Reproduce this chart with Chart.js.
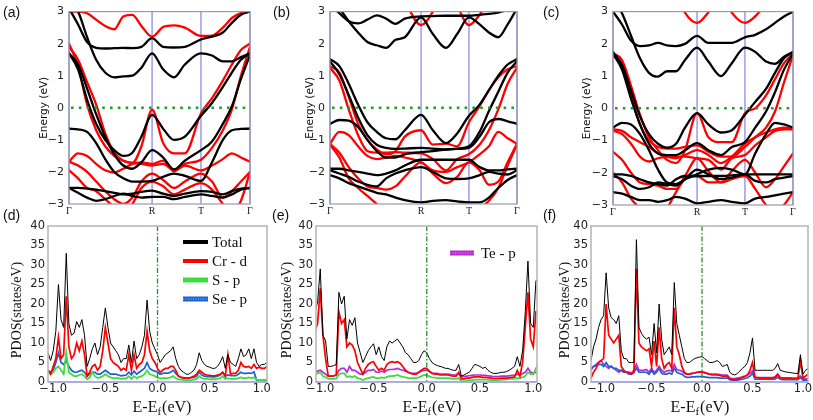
<!DOCTYPE html>
<html><head><meta charset="utf-8">
<script src="https://cdn.jsdelivr.net/npm/chart.js@4.4.1/dist/chart.umd.min.js"></script>
<style>
html,body{margin:0;padding:0;background:#fff;}
#wrap{position:relative;width:813px;height:420px;overflow:hidden;background:#fff;}
#wrap canvas{position:absolute;left:0;top:0;}
</style></head><body>
<div id="wrap">
<canvas id="cA" width="813" height="420"></canvas>
<canvas id="cB" width="813" height="420"></canvas>
<canvas id="cC" width="813" height="420"></canvas>
<canvas id="cD" width="813" height="420"></canvas>
<canvas id="cE" width="813" height="420"></canvas>
<canvas id="cF" width="813" height="420"></canvas>
</div>
<script>
// ---------- band structure data ----------
const K_LABELS = ['Γ', 'R', 'T', 'Γ'];
const KPTS_A = [0, 0.459, 0.729, 1];
const KPTS_B = [0, 0.487, 0.743, 1];
const KPTS_C = [0, 0.467, 0.733, 1];
const K_A = [0, .05, .1, .15, .2, .25, .3, .35, .4, .459, .52, .58, .64, .729, .79, .85, .9, .95, 1];
const K_B = [0, .05, .1, .15, .2, .25, .3, .35, .4, .487, .55, .62, .68, .743, .8, .85, .9, .95, 1];
const K_C = [0, .05, .1, .15, .2, .25, .3, .35, .4, .467, .53, .6, .66, .733, .79, .85, .9, .95, 1];

const BLACK_A = [
  [3.1, 2.6, 2.05, 1.87, 1.85, 1.86, 1.87, 1.86, 1.9, 2.17, 1.9, 1.88, 1.9, 2.13, 2.22, 2.35, 2.65, 2.9, 3.0],
  [3.3, 3.0, 2.2, 1.5, 1.1, 0.95, 0.98, 1.0, 1.25, 1.7, 1.2, 0.95, 1.35, 1.7, 1.63, 1.45, 1.45, 1.58, 1.7],
  [1.7, 1.2, 0.25, -0.5, -1.0, -1.32, -1.5, -1.4, -0.9, -0.22, -0.65, -1.0, -0.9, -0.25, 0.15, 0.65, 1.1, 1.5, 1.7],
  [1.7, 1.35, 0.6, -0.2, -0.9, -1.45, -1.8, -1.9, -1.7, -1.32, -1.55, -1.92, -1.65, -1.32, -1.05, -0.5, 0.05, 0.9, 1.65],
  [-0.65, -0.67, -0.75, -1.1, -1.6, -2.0, -2.2, -2.3, -2.3, -2.28, -2.15, -2.05, -2.12, -2.28, -1.7, -1.0, -0.7, -0.66, -0.65],
  [-2.5, -2.5, -2.52, -2.55, -2.6, -2.65, -2.7, -2.68, -2.62, -2.58, -2.68, -2.75, -2.68, -2.6, -2.62, -2.7, -2.6, -2.52, -2.5],
  [-2.5, -2.65, -2.8, -2.9, -2.85, -2.75, -2.68, -2.75, -2.8, -2.78, -2.78, -2.85, -2.78, -2.7, -2.75, -2.8, -2.7, -2.55, -2.5]
];
const RED_A = [
  [3.0, 3.0, 2.95, 2.75, 2.55, 2.45, 2.85, 2.9, 2.55, 2.22, 2.52, 2.57, 2.5, 2.24, 2.25, 2.5, 2.8, 2.95, 3.0],
  [2.0, 1.3, 0.1, -0.7, -1.2, -1.5, -1.65, -1.72, -1.2, -0.06, -1.1, -1.42, -1.42, -0.18, 0.3, 0.85, 1.35, 1.8, 2.0],
  [1.9, 1.5, 0.8, 0.1, -0.8, -1.4, -1.65, -1.72, -1.75, -1.8, -1.75, -1.95, -1.75, -1.62, -1.25, -0.7, -0.05, 1.0, 1.9],
  [-1.68, -1.42, -1.5, -1.75, -1.95, -2.02, -1.9, -1.75, -1.7, -1.75, -1.65, -1.98, -1.8, -1.95, -1.8, -1.6, -1.42, -1.55, -1.68],
  [-1.68, -1.8, -2.0, -2.3, -2.6, -2.85, -3.0, -2.8, -2.3, -2.05, -2.25, -2.5, -2.3, -2.05, -2.3, -2.8, -2.6, -2.3, -2.0],
  [-1.95, -2.2, -2.5, -2.6, -2.85, -3.1, -3.3, -3.0, -2.5, -2.3, -2.45, -2.7, -2.55, -2.35, -2.55, -3.0, -3.3, -2.9, -2.0]
];
const BLACK_B = [
  [3.2, 2.95, 2.7, 2.63, 2.75, 2.88, 2.78, 2.62, 2.78, 2.85, 2.86, 2.87, 2.87, 2.87, 2.9, 2.93, 2.97, 3.05, 3.1],
  [3.4, 3.1, 2.7, 2.35, 2.05, 1.95, 1.87, 2.12, 2.2, 2.82, 2.3, 1.87, 2.3, 2.82, 2.6, 2.35, 2.2, 2.6, 3.1],
  [1.52, 1.3, 0.75, 0.1, -0.45, -0.75, -0.95, -0.98, -0.7, -0.22, -0.7, -1.1, -0.8, -0.25, 0.1, 0.55, 1.0, 1.35, 1.52],
  [1.45, 1.05, 0.4, -0.3, -0.85, -1.15, -1.25, -1.28, -1.27, -1.25, -1.27, -1.3, -1.27, -1.2, -0.75, -0.1, 0.5, 1.1, 1.45],
  [-0.5, -0.38, -0.4, -0.6, -1.0, -1.35, -1.55, -1.55, -1.45, -1.38, -1.35, -1.3, -1.28, -1.25, -0.9, -0.45, -0.35, -0.42, -0.5],
  [-1.9, -1.9, -1.95, -2.0, -2.05, -2.1, -2.05, -1.95, -1.8, -1.62, -1.62, -1.62, -1.62, -1.62, -1.85, -1.95, -1.95, -1.92, -1.9],
  [-1.95, -2.05, -2.15, -2.3, -2.4, -2.45, -2.2, -2.05, -1.95, -1.85, -2.0, -2.2, -2.22, -2.2, -2.1, -2.0, -2.05, -2.08, -1.95],
  [-2.1, -2.2, -2.35, -2.45, -2.55, -2.65, -2.7, -2.8, -2.88, -2.95, -2.9, -2.88, -2.92, -2.95, -2.95, -2.8, -2.5, -2.25, -2.1]
];
const RED_B = [
  [4, 4, 4, 4, 4, 4, 4, 4, 3.35, 2.58, 3.0, 4, 3.2, 2.58, 2.9, 3.4, 4, 4, 4],
  [1.3, 1.1, 0.35, -0.5, -1.0, -1.3, -1.45, -1.35, -0.9, -0.7, -1.15, -1.12, -1.2, -0.45, 0.05, 0.55, 0.95, 1.2, 1.3],
  [1.25, 0.85, -0.05, -0.85, -1.35, -1.4, -1.4, -1.38, -1.4, -1.42, -1.6, -1.95, -1.6, -1.45, -1.15, -0.7, -0.05, 0.75, 1.25],
  [-1.12, -0.75, -0.85, -1.2, -1.5, -1.6, -1.55, -1.5, -1.55, -1.7, -1.95, -2.0, -1.85, -1.7, -1.45, -1.2, -0.75, -0.95, -1.12],
  [-1.12, -1.4, -1.85, -2.2, -2.45, -2.5, -2.55, -2.45, -2.15, -1.7, -2.05, -2.35, -2.15, -1.7, -1.95, -2.4, -2.3, -1.7, -1.12],
  [-1.15, -1.55, -2.2, -2.5, -2.75, -3.0, -3.3, -3.3, -3.2, -3.2, -3.3, -3.3, -3.2, -3.1, -3.1, -2.9, -2.5, -1.8, -1.15]
];
const BLACK_C = [
  [3.0, 2.6, 2.1, 1.93, 1.95, 2.03, 1.95, 1.93, 2.0, 2.25, 2.03, 2.03, 2.03, 2.2, 2.28, 2.45, 2.65, 2.85, 3.0],
  [3.4, 2.95, 2.25, 1.55, 1.1, 0.98, 1.15, 1.15, 1.5, 1.88, 1.45, 1.0, 1.4, 1.88, 1.75, 1.45, 1.38, 1.6, 1.75],
  [1.75, 1.35, 0.55, -0.25, -0.8, -1.1, -1.22, -1.1, -0.6, -0.15, -0.5, -0.75, -0.68, -0.2, 0.2, 0.6, 1.1, 1.55, 1.75],
  [1.7, 1.2, 0.3, -0.5, -1.1, -1.4, -1.45, -1.45, -1.3, -1.08, -1.3, -1.45, -1.2, -1.05, -0.6, -0.1, 0.5, 1.2, 1.7],
  [-0.6, -0.45, -0.5, -0.8, -1.3, -1.9, -2.3, -2.35, -2.2, -2.05, -1.9, -1.85, -1.9, -2.05, -1.4, -0.8, -0.45, -0.5, -0.6],
  [-2.05, -2.05, -2.1, -2.2, -2.3, -2.35, -2.4, -2.2, -2.1, -2.1, -2.1, -2.1, -2.08, -2.05, -2.05, -2.05, -2.05, -2.05, -2.05],
  [-2.1, -2.2, -2.4, -2.5, -2.45, -2.3, -2.35, -2.4, -2.2, -1.9, -2.05, -2.2, -2.15, -2.05, -2.25, -2.3, -2.2, -2.15, -2.1],
  [-2.6, -2.65, -2.75, -2.85, -2.85, -2.9, -2.85, -2.75, -2.8, -2.95, -2.9, -2.85, -2.9, -2.95, -2.8, -2.75, -2.7, -2.65, -2.6]
];
const RED_C = [
  [4, 4, 4, 4, 4, 4, 4, 3.6, 2.97, 2.65, 2.98, 3.6, 2.97, 2.65, 2.85, 3.3, 4, 4, 4],
  [1.7, 1.5, 0.7, -0.2, -0.9, -1.3, -1.6, -1.7, -1.3, -0.15, -0.9, -1.05, -1.05, -0.15, 0.0, 0.4, 0.9, 1.4, 1.7],
  [1.65, 1.3, 0.4, -0.5, -1.0, -1.2, -1.25, -1.25, -1.2, -1.15, -1.35, -1.5, -1.5, -1.2, -0.9, -0.6, -0.1, 0.8, 1.65],
  [-0.65, -0.7, -0.9, -1.05, -1.2, -1.4, -1.5, -1.55, -1.45, -1.3, -1.45, -1.7, -1.5, -1.1, -0.9, -0.75, -0.65, -0.6, -0.65],
  [-0.7, -0.8, -1.1, -1.5, -1.65, -1.55, -1.5, -1.5, -1.5, -1.55, -1.6, -1.9, -1.55, -1.45, -1.15, -0.9, -0.7, -0.65, -0.65],
  [-1.35, -1.6, -2.0, -2.3, -2.35, -2.4, -2.5, -2.5, -2.1, -1.55, -1.95, -2.3, -1.95, -1.6, -2.0, -2.45, -2.2, -1.8, -1.4],
  [-2.0, -2.3, -2.8, -3.1, -3.3, -3.3, -3.1, -2.6, -2.2, -2.1, -2.3, -2.3, -2.2, -2.1, -2.5, -3.0, -3.3, -3.0, -2.6]
];

// ---------- PDOS data ----------
const E_GRID_DE = Array.from({length: 85}, (_, i) => +(-1.05 + 0.025 * i).toFixed(3));
const E_GRID_F = Array.from({length: 87}, (_, i) => +(-1.1 + 0.025 * i).toFixed(3));
const PDOS_XTICKS = [-1, -0.5, 0, 0.5, 1];

const D_TOTAL = [7.5,5.5,8,13,25,16,14,33,15,12, 12.5,15.5,14,16,12,4,6,8.5,10,7, 9,14,19,14,10,9,8,7,5,6, 6,9.5,5,10.5,6,7,9,12,21,13, 10,8.5,7,5,6,7,7.5,8,9,6, 4,3,2.5,2,2,2.5,3,4.5,7.5,5.5, 4.5,4,3.8,3.5,3.5,4,5,6.5,3.5,7, 5,4.5,4,6,8.5,6.5,7,8.5,6,8.5, 5,4,4.5,4.5,5];
const D_CRD = [3,2,4,6,11.5,6,7,22,9,6, 7,10,8,10.5,7,1.5,2.5,4,4.5,3, 4,8,14,10,6,5,4.5,4,3,3.5, 3,7,3,7,3.5,4.5,5,7,13,8, 6,5,3.5,2.5,3,3.5,3.5,4,4,3, 1.5,1.2,1,1,1,1.2,1.5,2,3,2.5, 2,1.8,1.7,1.6,1.6,1.8,2,2.5,1.5,7, 2,2.2,2.2,3,5,4,3.8,4,3.5,4.5, 3.5,3.8,3.5,3.5,4];
const D_SP = [3,2,2.5,3.5,4,3,2,7.5,2.5,2, 1.5,1.5,1.8,2,1.5,0.7,1.2,2.5,1.5,1, 1.2,1.5,2,1.5,1.2,1,1,1,0.8,0.9, 0.9,1.5,0.8,1.5,1,1.3,1.5,2,3,2, 1.8,1.5,1.2,0.9,1,1,1,1.2,1.5,1, 0.7,0.6,0.5,0.5,0.5,0.5,0.6,0.8,1.5,1, 0.8,0.8,0.7,0.7,0.7,0.8,1,1.5,0.8,1, 0.8,0.8,0.8,1,1.2,1,1,1.2,1,1.2, 0.6,0.5,0.5,0.5,0.6];
const D_SEP = [3,2.5,3,5,7.5,5,4.5,5.5,4,3, 2.5,2.5,2.8,3,2.5,1.5,2,2.5,2.5,2, 2,2.5,3,2.5,2,2,2,1.8,1.6,1.7, 1.8,2.5,1.8,2.8,2,2.5,3,3.5,5,3.5, 3,2.8,2.5,2,2.2,2.3,2.3,2.5,3,2.2, 1.5,1.2,1.1,1,1,1.1,1.2,1.5,2.5,1.8, 1.5,1.4,1.4,1.3,1.3,1.5,1.8,2.5,1.5,1.8, 1.6,1.6,1.6,2,2.5,2.2,2.2,2.3,2.2,2.6, 0.5,0.4,0.4,0.4,0.5];

const E_TOTAL = [18,20.5,29,12,10.5,4,4,4.2,4.5,23, 20,22,11,16,14.5,16.5,10,7.5,5,6.5, 8,9,9.8,7,9,6.5,5.5,9,10.5,10, 10.5,11,10,9,7.5,7,6,5,5,5.5, 7,8,7.5,6,5,4.5,4.2,4,3.8,3.5, 3.5,3.2,3,3,4.5,1.5,1.8,2.2,2.5,3.5, 4.5,4.3,4,3.5,3.8,3,2.5,2.2,2.2,2.3, 2.5,2.5,2.7,3,3.5,4,6.5,4,8,18, 31,15,14,26,26];
const E_CRD = [13,15,24,12,6,1.5,1.5,1.6,1.8,18, 15,16,9,10,9.5,8,5,3.5,2,3.5, 4.5,5,5.2,4,3,3.5,3,4.5,5,5.2, 5,5.2,4.8,4,3,2.5,2.2,2,2,2.5, 3,3.5,3.5,2.8,2.2,2,2,1.8,1.8,1.8, 1.8,1.6,1.5,1.5,2.5,0.8,0.8,1,1,1.2, 1.3,1.3,1.3,1.2,1.2,1.1,1,0.9,0.9,0.9, 1,1,1,1.1,1.2,1.3,3,1.5,5,14, 23,11,9,18,18];
const E_SP = [2.5,2.2,2.5,1.5,1.2,0.8,0.8,0.8,0.9,2, 2.2,2.2,1.3,1.5,1.2,1.5,1,0.8,0.5,0.8, 1,1.2,1.3,1,1,1.2,1,1.3,1.5,1.5, 1.6,1.8,1.5,1.3,1.2,1,1,1,1,1.2, 1.5,1.8,1.8,1.4,1.2,1.1,1,1,1,1, 1,0.9,0.8,0.8,1,0.2,0.2,0.3,0.4,0.5, 0.6,0.6,0.6,0.6,0.6,0.6,0.5,0.5,0.5,0.5, 0.6,0.6,0.7,0.8,0.8,0.9,1,1,1.2,1.5, 2.5,2,2,3.5,4.5];
const E_TEP = [2.5,2.8,3,2.5,2,1.5,1.5,1.5,1.8,3, 3.5,3.5,2.5,4,3,3,2.5,2,2,2.5, 3,3,3.2,2.5,2.5,2.8,2.5,3,3.2,3.2, 3.3,3.5,3.2,3,2.8,2.5,2.3,2.2,2.2,2.5, 2.8,3,3,2.6,2.3,2.2,2.2,2,2,2, 2,1.9,1.8,1.8,2.2,1.4,1.4,1.5,1.6,1.7, 1.8,1.8,1.8,1.7,1.7,1.6,1.5,1.4,1.4,1.4, 1.5,1.5,1.5,1.6,1.7,1.8,2,1.8,2.2,2.5, 3.5,2.5,2.3,2.5,2.5];

const F_TOTAL = [5.5,9,11,14,16,17,28,19,16.5,16, 15,17,8,6,6,5,5,5,36.5,14, 12.5,11.5,11,11.5,7,15,7.5,20,11,7, 8,9,7,25.5,15,12,9,6,5,5, 5.5,6,6.2,6.4,6.5,6,5.5,5,5,5.2, 5.5,5,4,4.2,4.5,2.5,2,1.8,2.2,2.8, 3.5,4,5,7.5,11.3,3,3,3,3,3, 3,3,3,3.5,4.7,3,2.8,2.6,2.5,2.4, 2.3,2.2,2.2,7,2,3,3.5];
const F_CRD = [1,2.5,3.5,5,5.5,6,20,12,11,10, 11,12,4,3,2.5,2.5,2,2.5,29,10, 9,8.5,8,8.5,4,10.5,4,14,6,3.5, 4.5,5,3.5,19,9,7,4,2.5,2,2, 2.2,2.3,2.5,2.6,2.6,2.5,2.2,2,1.8,1.8, 1.8,1.7,1.5,1.5,1.5,0.8,0.6,0.6,0.7,0.9, 1.2,1.4,1.8,3,5,1.2,1.1,1,1,1, 1,1,1,1.3,2,1.1,1,1,1,1, 0.9,0.9,0.9,5.5,1,1.5,2];
const F_SEP = [3.5,4,4.2,4.5,4.5,4,5,4,4,3.5, 3.5,3,3,2.5,2.5,2,2,2.5,3.5,2.5, 2.5,2.5,2.5,2,3,2,2.5,3.5,2.2,2, 2,2.3,2,3.5,2.5,2.2,2,1.5,1.2,1.2, 1.3,1.3,1.4,1.4,1.4,1.3,1.2,1.1,1.1,1.1, 1.1,1,1,1,1,0.6,0.5,0.5,0.5,0.6, 0.7,0.9,1.1,1.5,2.2,0.7,0.7,0.7,0.7,0.7, 0.7,0.7,0.7,0.8,1.2,0.7,0.6,0.6,0.6,0.6, 0.6,0.6,0.6,1.2,0.5,0.5,0.5];
const F_TEP = [3,4,4.5,5,5.5,4.5,4,3.5,4,3.5, 3,2.5,3,2.5,2.5,2.5,2.3,3,4.5,3, 3,3,3.2,2.5,3.5,2.5,3,4,3,2.5, 2.8,3,2.8,4.5,3.2,3,2.8,2.2,2,2, 2.2,2.3,2.5,2.5,2.5,2.3,2.2,2,2,2, 2,1.9,1.8,1.8,1.8,1,0.9,0.9,1,1.1, 1.3,1.5,1.8,2.2,2.8,1.2,1.1,1.1,1.1,1.1, 1.1,1.1,1.1,1.3,1.8,1.1,1,1,1,1, 1,1,1,1.5,0.8,0.8,0.8];

// ---------- styling ----------
const COL = {total:'#000000', cr:'#ff0000', s:'#3fdc3f', se:'#1f5fd6', te:'#b52bd4'};
const SANS = "'DejaVu Sans', sans-serif";
const SERIF = "'Liberation Serif', 'Times New Roman', serif";
const W = 813, H = 420;
const YAXIS_W = 40, XAXIS_H = 22;
const NO_GRID = {display: false, drawTicks: false, tickLength: 0};

function minusFmt(v, d) {
  const s = Math.abs(v).toFixed(d);
  return v < -1e-9 ? '\u2212' + s : s;
}
// padding so that the plot area lands on the given pixel box
function areaPad(l, t, r, b) {
  return {left: l - YAXIS_W, top: t, right: W - r, bottom: H - b - XAXIS_H};
}

function drawRotated(ctx, text, x, y, font) {
  ctx.save();
  ctx.translate(x, y); ctx.rotate(-Math.PI / 2);
  ctx.font = font; ctx.fillStyle = '#111'; ctx.textAlign = 'center'; ctx.textBaseline = 'middle';
  ctx.fillText(text, 0, 0);
  ctx.restore();
}
function drawPanelLabel(ctx, text, x, y) {
  ctx.save();
  ctx.font = "14px 'Liberation Sans', Arial, sans-serif"; ctx.fillStyle = '#111';
  ctx.textAlign = 'left'; ctx.textBaseline = 'middle';
  ctx.fillText(text, x, y);
  ctx.restore();
}
function drawEEf(ctx, cx, by) {
  ctx.save();
  ctx.fillStyle = '#111'; ctx.textAlign = 'left'; ctx.textBaseline = 'alphabetic';
  const big = '16px ' + SERIF, small = '11px ' + SERIF;
  ctx.font = big; const w1 = ctx.measureText('E-E').width, w3 = ctx.measureText('(eV)').width;
  ctx.font = small; const w2 = ctx.measureText('f').width + 1;
  let x = cx - (w1 + w2 + w3) / 2;
  ctx.font = big; ctx.fillText('E-E', x, by); x += w1;
  ctx.font = small; ctx.fillText('f', x, by + 3); x += w2;
  ctx.font = big; ctx.fillText('(eV)', x, by);
  ctx.restore();
}

function bandPlugin(o) {
  return {
    id: 'bandDecor',
    beforeDatasetsDraw(chart) {
      const {ctx, chartArea: a, scales: {x}} = chart;
      ctx.save();
      ctx.strokeStyle = '#8c8ce6'; ctx.lineWidth = 1.3;
      o.kpts.forEach(k => {
        const px = x.getPixelForValue(k);
        ctx.beginPath(); ctx.moveTo(px, a.top); ctx.lineTo(px, a.bottom); ctx.stroke();
      });
      ctx.restore();
    },
    afterDatasetsDraw(chart) {
      const {ctx, chartArea: a, scales: {y}} = chart;
      ctx.save();
      const y0 = y.getPixelForValue(0);
      ctx.strokeStyle = '#24992a'; ctx.lineWidth = 2.6; ctx.setLineDash([2.6, 5.2]);
      ctx.beginPath(); ctx.moveTo(a.left + 2, y0); ctx.lineTo(a.right, y0); ctx.stroke();
      ctx.setLineDash([]);
      ctx.strokeStyle = '#9a9aa8'; ctx.lineWidth = 1.2;
      ctx.strokeRect(a.left, a.top, a.right - a.left, a.bottom - a.top);
      ctx.restore();
    },
    afterDraw(chart) {
      const ctx = chart.ctx;
      drawPanelLabel(ctx, o.label, o.labelX, o.labelY);
      drawRotated(ctx, 'Energy (eV)', o.titleX, (chart.chartArea.top + chart.chartArea.bottom) / 2, '10.5px ' + SANS);
    }
  };
}

function makeBand(id, o) {
  const ds = [];
  const mk = (vals, color) => ({
    data: o.k.map((x, i) => ({x: x, y: vals[i]})),
    borderColor: color, borderWidth: 2.3, pointRadius: 0, fill: false,
    cubicInterpolationMode: 'monotone', borderCapStyle: 'round', borderJoinStyle: 'round'
  });
  o.black.forEach(b => ds.push(mk(b, '#000000')));
  o.red.forEach(b => ds.push(mk(b, '#ff0000')));
  new Chart(document.getElementById(id), {
    type: 'line',
    data: {datasets: ds},
    options: {
      responsive: false, animation: false, events: [],
      layout: {padding: o.pad},
      plugins: {legend: {display: false}, tooltip: {enabled: false}},
      scales: {
        x: {
          type: 'linear', min: 0, max: 1,
          grid: NO_GRID, border: {display: false},
          afterBuildTicks: s => { s.ticks = o.kpts.map(v => ({value: v})); },
          afterFit: s => { s.height = XAXIS_H; },
          ticks: {autoSkip: false, maxRotation: 0, padding: 1, color: '#222',
                  font: {family: SERIF, size: 10}, callback: (v, i) => K_LABELS[i]}
        },
        y: {
          type: 'linear', min: -3, max: 3,
          grid: NO_GRID, border: {display: false},
          afterFit: s => { s.width = YAXIS_W; },
          ticks: {stepSize: 1, padding: 5, color: '#222', font: {family: SANS, size: 11},
                  callback: v => minusFmt(v, 0)}
        }
      }
    },
    plugins: [bandPlugin(o)]
  });
}

function drawSwatch(ctx, x1, x2, y, color, w, dots) {
  ctx.save();
  ctx.strokeStyle = color; ctx.lineWidth = w; ctx.lineCap = 'butt';
  ctx.beginPath(); ctx.moveTo(x1, y); ctx.lineTo(x2, y); ctx.stroke();
  if (dots) {
    ctx.strokeStyle = dots; ctx.lineWidth = 1.2; ctx.setLineDash([1, 1.5]);
    ctx.beginPath(); ctx.moveTo(x1, y); ctx.lineTo(x2, y); ctx.stroke();
  }
  ctx.restore();
}

function pdosPlugin(o) {
  return {
    id: 'pdosDecor',
    afterDatasetsDraw(chart) {
      const {ctx, chartArea: a, scales: {x}} = chart;
      ctx.save();
      const px = x.getPixelForValue(0);
      ctx.strokeStyle = '#2b8f2b'; ctx.lineWidth = 1.3; ctx.setLineDash([5, 2, 1.5, 2]);
      ctx.beginPath(); ctx.moveTo(px, a.top); ctx.lineTo(px, a.bottom); ctx.stroke();
      ctx.setLineDash([]);
      ctx.strokeStyle = '#b8b8b8'; ctx.lineWidth = 1.6;
      ctx.strokeRect(a.left, a.top, a.right - a.left, a.bottom - a.top);
      ctx.strokeStyle = '#a3a3e6'; ctx.lineWidth = 1.6;
      ctx.beginPath(); ctx.moveTo(a.left, a.bottom); ctx.lineTo(a.right, a.bottom); ctx.stroke();
      ctx.restore();
    },
    afterDraw(chart) {
      const ctx = chart.ctx, a = chart.chartArea;
      drawPanelLabel(ctx, o.label, o.labelX, o.labelY);
      drawRotated(ctx, 'PDOS(states/eV)', o.titleX, (a.top + a.bottom) / 2 + 6, '14px ' + SERIF);
      drawEEf(ctx, o.xTitleX, 412);
      o.legend.forEach(e => {
        drawSwatch(ctx, e.x1, e.x2, e.y, e.color, e.w, e.dots);
        ctx.save();
        ctx.font = '15px ' + SERIF; ctx.fillStyle = '#111'; ctx.textAlign = 'left'; ctx.textBaseline = 'middle';
        ctx.fillText(e.text, e.tx, e.y + 1);
        ctx.restore();
      });
    }
  };
}

function makePdos(id, o) {
  const ds = o.series.map(s => ({
    data: o.grid.map((x, i) => ({x: x, y: s.vals[i]})),
    borderColor: s.color, borderWidth: s.w, pointRadius: 0, fill: false, tension: 0,
    borderJoinStyle: 'miter'
  }));
  new Chart(document.getElementById(id), {
    type: 'line',
    data: {datasets: ds},
    options: {
      responsive: false, animation: false, events: [],
      layout: {padding: o.pad},
      plugins: {legend: {display: false}, tooltip: {enabled: false}},
      scales: {
        x: {
          type: 'linear', min: o.xmin, max: o.xmax,
          grid: NO_GRID, border: {display: false},
          afterBuildTicks: s => { s.ticks = PDOS_XTICKS.map(v => ({value: v})); },
          afterFit: s => { s.height = XAXIS_H; },
          ticks: {autoSkip: false, maxRotation: 0, padding: 0, color: '#222',
                  font: {family: SANS, size: 11.5}, callback: v => minusFmt(v, 1)}
        },
        y: {
          type: 'linear', min: 0, max: 40,
          grid: NO_GRID, border: {display: false},
          afterFit: s => { s.width = YAXIS_W; },
          ticks: {stepSize: 5, padding: 3, color: '#222', font: {family: SANS, size: 11.5}}
        }
      }
    },
    plugins: [pdosPlugin(o)]
  });
}

// ---------- top row ----------
makeBand('cA', {k: K_A, kpts: KPTS_A, black: BLACK_A, red: RED_A,
  pad: areaPad(69, 10, 250, 204), label: '(a)', labelX: 3, labelY: 13, titleX: 44});
makeBand('cB', {k: K_B, kpts: KPTS_B, black: BLACK_B, red: RED_B,
  pad: areaPad(330, 10, 517, 204), label: '(b)', labelX: 273, labelY: 13, titleX: 310});
makeBand('cC', {k: K_C, kpts: KPTS_C, black: BLACK_C, red: RED_C,
  pad: areaPad(613, 11, 793, 205), label: '(c)', labelX: 543, labelY: 13, titleX: 587});

// ---------- bottom row ----------
makePdos('cD', {grid: E_GRID_DE, xmin: -1.05, xmax: 1.05,
  pad: areaPad(48, 226, 267, 382),
  series: [
    {vals: D_TOTAL, color: COL.total, w: 1},
    {vals: D_CRD, color: COL.cr, w: 1.7},
    {vals: D_SP, color: COL.s, w: 1.8},
    {vals: D_SEP, color: COL.se, w: 1.7}
  ],
  label: '(d)', labelX: 3, labelY: 216, titleX: 17, xTitleX: 162,
  legend: [
    {text: 'Total', color: COL.total, w: 4, x1: 183, x2: 208, tx: 212, y: 242},
    {text: 'Cr - d', color: COL.cr, w: 4, x1: 183, x2: 208, tx: 212, y: 261},
    {text: 'S - p', color: COL.s, w: 5, x1: 183, x2: 208, tx: 212, y: 280},
    {text: 'Se - p', color: COL.se, w: 5, x1: 183, x2: 208, tx: 212, y: 299, dots: '#8fd8ff'}
  ]});
makePdos('cE', {grid: E_GRID_DE, xmin: -1.04, xmax: 1.035,
  pad: areaPad(316, 226, 537, 382),
  series: [
    {vals: E_TOTAL, color: COL.total, w: 1},
    {vals: E_CRD, color: COL.cr, w: 1.7},
    {vals: E_SP, color: COL.s, w: 1.8},
    {vals: E_TEP, color: COL.te, w: 1.7}
  ],
  label: '(e)', labelX: 272, labelY: 216, titleX: 287, xTitleX: 432,
  legend: [
    {text: 'Te - p', color: COL.te, w: 5, x1: 450, x2: 474, tx: 481, y: 253, dots: '#f0a0f0'}
  ]});
makePdos('cF', {grid: E_GRID_F, xmin: -1.1, xmax: 1.05,
  pad: areaPad(591, 226, 808, 382),
  series: [
    {vals: F_TOTAL, color: COL.total, w: 1},
    {vals: F_CRD, color: COL.cr, w: 1.7},
    {vals: F_SEP, color: COL.se, w: 1.7},
    {vals: F_TEP, color: COL.te, w: 1.7}
  ],
  label: '(f)', labelX: 543, labelY: 216, titleX: 565, xTitleX: 700,
  legend: []});
</script>
</body></html>
